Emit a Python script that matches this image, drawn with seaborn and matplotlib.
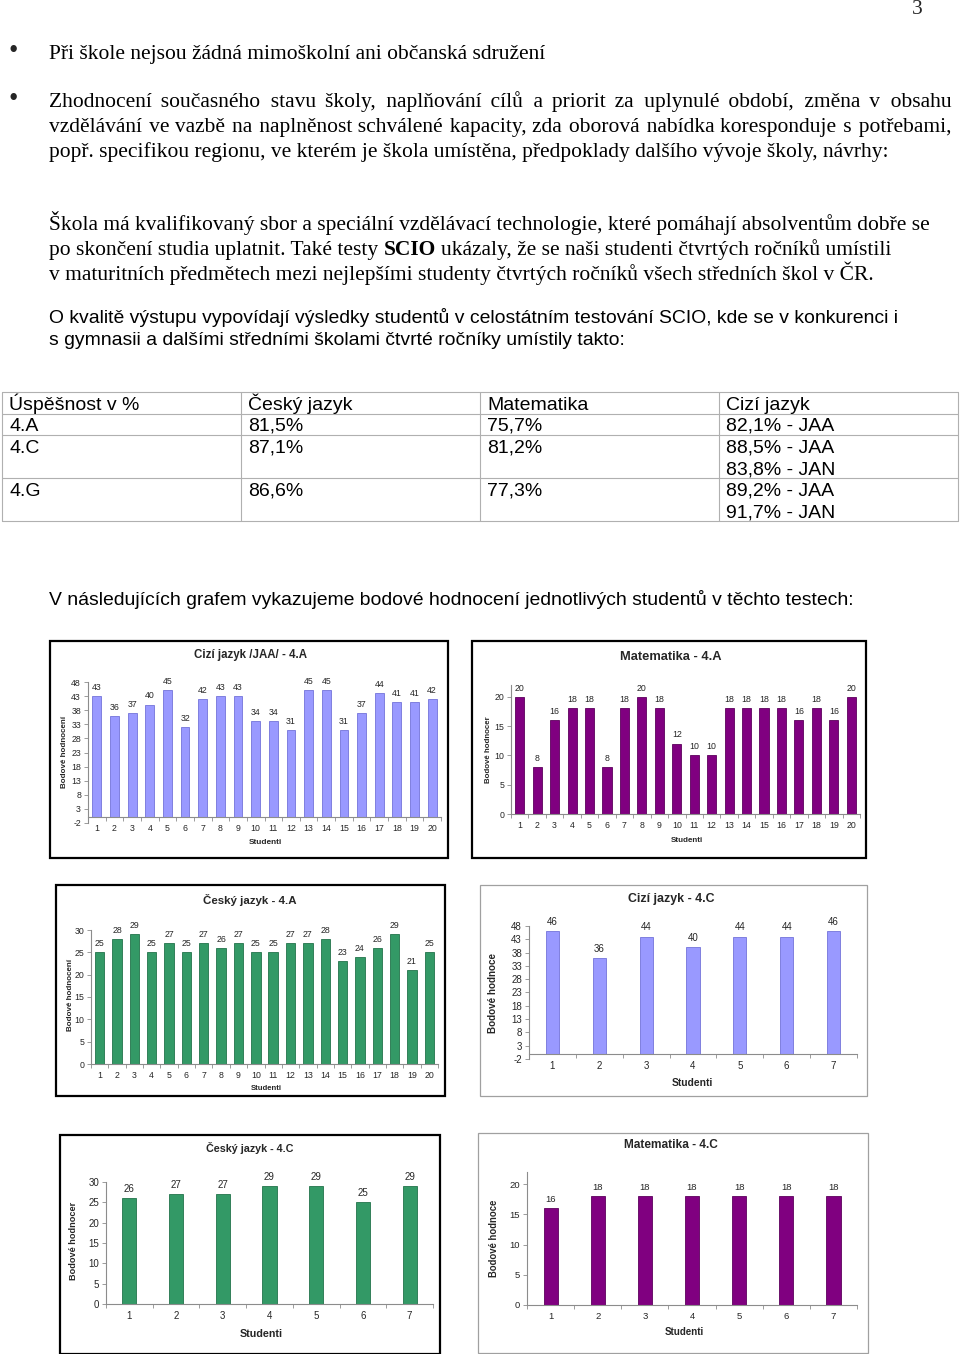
import matplotlib
matplotlib.use("Agg")
import matplotlib.pyplot as plt
import seaborn as sns
from matplotlib.lines import Line2D
from matplotlib.patches import Rectangle

# ---------------- data ----------------
page_number = "3"
bullet_1 = "Při škole nejsou žádná mimoškolní ani občanská sdružení"
bullet_2_lines = [
    "Zhodnocení současného stavu školy, naplňování cílů a priorit za uplynulé období, změna v obsahu",
    "vzdělávání ve vazbě na naplněnost schválené kapacity, zda oborová nabídka koresponduje s potřebami,",
    "popř. specifikou regionu, ve kterém je škola umístěna, předpoklady dalšího vývoje školy, návrhy:",
]
para_1_lines = [
    [("Škola má kvalifikovaný sbor a speciální vzdělávací technologie, které pomáhají absolventům dobře se", "normal")],
    [("po skončení studia uplatnit. Také testy", "normal"), ("SCIO", "bold"),
     ("ukázaly, že se naši studenti čtvrtých ročníků umístili", "normal")],
    [("v maturitních předmětech mezi nejlepšími studenty čtvrtých ročníků všech středních škol v ČR.", "normal")],
]
para_2_lines = [
    "O kvalitě výstupu vypovídají výsledky studentů v celostátním testování SCIO, kde se v konkurenci i",
    "s gymnasii a dalšími středními školami čtvrté ročníky umístily takto:",
]
table_header = ["Úspěšnost v %", "Český jazyk", "Matematika", "Cizí jazyk"]
table_classes = ["4.A", "4.C", "4.G"]
table_czech = ["81,5%", "87,1%", "86,6%"]
table_math = ["75,7%", "81,2%", "77,3%"]
table_foreign = [["82,1% - JAA"], ["88,5% - JAA", "83,8% - JAN"], ["89,2% - JAA", "91,7% - JAN"]]
graphs_intro = "V následujících grafem vykazujeme bodové hodnocení jednotlivých studentů v těchto testech:"

students_20 = [str(i) for i in range(1, 21)]
students_7 = [str(i) for i in range(1, 8)]
foreign_4a = [43, 36, 37, 40, 45, 32, 42, 43, 43, 34, 34, 31, 45, 45, 31, 37, 44, 41, 41, 42]
math_4a = [20, 8, 16, 18, 18, 8, 18, 20, 18, 12, 10, 10, 18, 18, 18, 18, 16, 18, 16, 20]
czech_4a = [25, 28, 29, 25, 27, 25, 27, 26, 27, 25, 25, 27, 27, 28, 23, 24, 26, 29, 21, 25]
foreign_4c = [46, 36, 44, 40, 44, 44, 46]
czech_4c = [26, 27, 27, 29, 29, 25, 29]
math_4c = [16, 18, 18, 18, 18, 18, 18]

# ---------------- setup ----------------
sns.set_theme(style="white")
plt.rcParams["font.family"] = ["Liberation Sans", "DejaVu Sans"]
plt.rcParams["axes.unicode_minus"] = False
W, H = 960, 1354
fig = plt.figure(figsize=(W / 100, H / 100), dpi=100)
fig.patch.set_facecolor("white")
renderer = fig.canvas.get_renderer()

SERIF = ["Liberation Serif", "DejaVu Serif"]
SANS = ["Liberation Sans", "DejaVu Sans"]


def fx(x):
    return x / W


def fy(y):
    return 1 - y / H


def text_width(s, size, family, weight="normal"):
    t = fig.text(0, 0, s, fontsize=size, family=family, weight=weight)
    w = t.get_window_extent(renderer).width
    t.remove()
    return w


def fit_size(s, target, family, weight="normal"):
    return 10 * target / text_width(s, 10, family, weight)


def place_line(x, yc, segs, size, family, justify_to=None):
    base = yc + 0.34 * size * 100 / 72
    space = text_width("a a", size, family) - text_width("aa", size, family)
    if justify_to is None:
        cx = x
        for txt, wt in segs:
            fig.text(fx(cx), fy(base), txt, fontsize=size, family=family, weight=wt,
                     ha="left", va="baseline", color="black")
            cx += text_width(txt, size, family, wt) + space
        return
    # justified: one text object, gaps widened with hair spaces
    text = " ".join(t for t, _ in segs)
    words = text.split(" ")
    hair = text_width("a\u200aa", size, family) - text_width("aa", size, family)
    natural = text_width(text, size, family)
    extra = (justify_to - x - natural) / (len(words) - 1)
    s = words[0]
    acc = 0.0
    for w in words[1:]:
        acc += extra
        m = int(round(acc / hair)) if hair > 0.2 else 0
        acc -= m * hair
        s += " " + "\u200a" * m + w
    fig.text(fx(x), fy(base), s, fontsize=size, family=family,
             ha="left", va="baseline", color="black")


# ---------------- body text ----------------
ts = fit_size(bullet_1, 496, SERIF)
fig.text(fx(917), fy(10), page_number, fontsize=ts, family=SERIF, ha="center", va="center")
for yb in (52, 100):
    fig.text(fx(13), fy(yb), "•", fontsize=ts * 1.25, family=SERIF, ha="center", va="center")
place_line(49, 52, [(bullet_1, "normal")], ts, SERIF)
place_line(49, 100, [(bullet_2_lines[0], "normal")], ts, SERIF, justify_to=951)
place_line(49, 125, [(bullet_2_lines[1], "normal")], ts, SERIF, justify_to=951)
place_line(49, 150, [(bullet_2_lines[2], "normal")], ts, SERIF)
for i, segs in enumerate(para_1_lines):
    place_line(49, 223 + 25 * i, segs, ts, SERIF)

ss = fit_size(para_2_lines[0], 848, SANS)
place_line(49, 316, [(para_2_lines[0], "normal")], ss, SANS)
place_line(49, 338, [(para_2_lines[1], "normal")], ss, SANS)

# ---------------- table ----------------
tsz = fit_size(table_header[0], 130, SANS)
col_x = [9, 248, 487, 726]
grid_c = "#b0b0b0"
for yl in (392, 413.5, 435, 478, 521):
    fig.add_artist(Line2D([fx(2), fx(958)], [fy(yl), fy(yl)], color=grid_c, lw=0.8))
for xl in (2, 241, 480, 719, 958):
    fig.add_artist(Line2D([fx(xl), fx(xl)], [fy(392), fy(521)], color=grid_c, lw=0.8))
for cx, s in zip(col_x, table_header):
    place_line(cx, 403, [(s, "normal")], tsz, SANS)
row_y = [424, 446, 489]
for r, yr in enumerate(row_y):
    place_line(col_x[0], yr, [(table_classes[r], "normal")], tsz, SANS)
    place_line(col_x[1], yr, [(table_czech[r], "normal")], tsz, SANS)
    place_line(col_x[2], yr, [(table_math[r], "normal")], tsz, SANS)
    for k, s in enumerate(table_foreign[r]):
        place_line(col_x[3], yr + 21.5 * k, [(s, "normal")], tsz, SANS)

isz = fit_size(graphs_intro, 804, SANS)
place_line(49, 598, [(graphs_intro, "normal")], isz, SANS)


# ---------------- charts ----------------
def chart(axes_px, frame_px, frame_col, frame_lw, cats, vals, color, edge, width,
          ylim, yticks, tick_sz, lab_sz, title, title_xy, title_w,
          ylab, ylab_xy, ylab_w, xlab_xy, xlab_w, cross_zero=False):
    x0, y0, x1, y1 = frame_px
    fig.add_artist(Rectangle((fx(x0), fy(y1)), (x1 - x0) / W, (y1 - y0) / H,
                             transform=fig.transFigure, fill=False,
                             edgecolor=frame_col, lw=frame_lw, zorder=5))
    a0, b0, a1, b1 = axes_px
    ax = fig.add_axes([fx(a0), fy(b1), (a1 - a0) / W, (b1 - b0) / H])
    ax.set_facecolor("none")
    sns.barplot(x=cats, y=vals, order=cats, color=color, saturation=1, width=width,
                edgecolor=edge, linewidth=0.6, ax=ax)
    n = len(cats)
    ax.set_xlim(-0.5, n - 0.5)
    ax.set_ylim(*ylim)
    ax.set_yticks(yticks)
    ax.set_xticks(range(n))
    ax.set_xticklabels(cats)
    ax.set_xticks([i - 0.5 for i in range(n + 1)], minor=True)
    for sp in ("top", "right"):
        ax.spines[sp].set_visible(False)
    for sp in ("left", "bottom"):
        ax.spines[sp].set_color("#8c8c8c")
        ax.spines[sp].set_linewidth(0.8)
    if cross_zero:
        ax.spines["bottom"].set_position(("data", 0))
    ax.tick_params(axis="y", left=True, length=3, width=0.6, color="#8c8c8c",
                   labelsize=tick_sz, pad=2)
    ax.tick_params(axis="x", which="major", bottom=True, length=0, labelsize=tick_sz, pad=5)
    ax.tick_params(axis="x", which="minor", bottom=True, length=3, width=0.6, color="#8c8c8c")
    ax.set_xlabel("")
    ax.set_ylabel("")
    ax.grid(False)
    ax.bar_label(ax.containers[0], labels=[str(v) for v in vals], padding=3, fontsize=lab_sz)
    tsz_ = fit_size(title, title_w, SANS, "bold")
    fig.text(fx(title_xy[0]), fy(title_xy[1]), title, fontsize=tsz_, weight="bold",
             ha="center", va="center")
    ysz = fit_size(ylab, ylab_w, SANS, "bold")
    fig.text(fx(ylab_xy[0]), fy(ylab_xy[1]), ylab, fontsize=ysz, weight="bold",
             rotation=90, ha="center", va="center")
    xsz = fit_size("Studenti", xlab_w, SANS, "bold")
    fig.text(fx(xlab_xy[0]), fy(xlab_xy[1]), "Studenti", fontsize=xsz, weight="bold",
             ha="center", va="center")
    return ax


BLUE, BLUE_E = "#9999FF", "#7373d9"
PURPLE, PURPLE_E = "#800080", "#5c005c"
GREEN, GREEN_E = "#339966", "#22734b"
ticks_f = list(range(-2, 49, 5))

chart((88, 682, 441, 823), (50, 641, 448, 858), "black", 1.6, students_20, foreign_4a,
      BLUE, BLUE_E, 0.5, (-2, 48), ticks_f, 6.3, 6.3,
      "Cizí jazyk /JAA/ - 4.A", (250, 655), 113,
      "Bodové hodnocení", (64, 752), 72, (265, 842), 33, cross_zero=True)

chart((511, 685, 860, 814), (472, 641, 866, 858), "black", 1.6, students_20, math_4a,
      PURPLE, PURPLE_E, 0.52, (0, 22), [0, 5, 10, 15, 20], 6.3, 6.3,
      "Matematika - 4.A", (671, 657), 102,
      "Bodové hodnocer", (488, 750), 67, (687, 840), 32)

chart((91, 930, 438, 1064), (56, 885, 445, 1096), "black", 1.6, students_20, czech_4a,
      GREEN, GREEN_E, 0.54, (0, 30), [0, 5, 10, 15, 20, 25, 30], 6.3, 6.3,
      "Český jazyk - 4.A", (250, 900), 93,
      "Bodové hodnocení", (70, 995), 72, (266, 1088), 31)

chart((529, 926, 857, 1059), (480, 885, 867, 1096), "#a0a0a0", 0.9, students_7, foreign_4c,
      BLUE, BLUE_E, 0.28, (-2, 48), ticks_f, 7.0, 7.0,
      "Cizí jazyk - 4.C", (671, 899), 86,
      "Bodové hodnoce", (493, 993), 80, (692, 1083), 41, cross_zero=True)

chart((106, 1182, 433, 1304), (60, 1135, 440, 1354), "black", 1.6, students_7, czech_4c,
      GREEN, GREEN_E, 0.3, (0, 30), [0, 5, 10, 15, 20, 25, 30], 7.0, 7.0,
      "Český jazyk - 4.C", (250, 1148), 87,
      "Bodové hodnocer", (74, 1241), 78, (261, 1334), 43)

chart((527, 1172, 857, 1305), (478, 1133, 868, 1353), "#a0a0a0", 0.9, students_7, math_4c,
      PURPLE, PURPLE_E, 0.3, (0, 22), [0, 5, 10, 15, 20], 6.8, 6.8,
      "Matematika - 4.C", (671, 1145), 94,
      "Bodové hodnoce", (494, 1238), 77, (684, 1332), 39)

fig.savefig("out.png", dpi=100, facecolor="white")
